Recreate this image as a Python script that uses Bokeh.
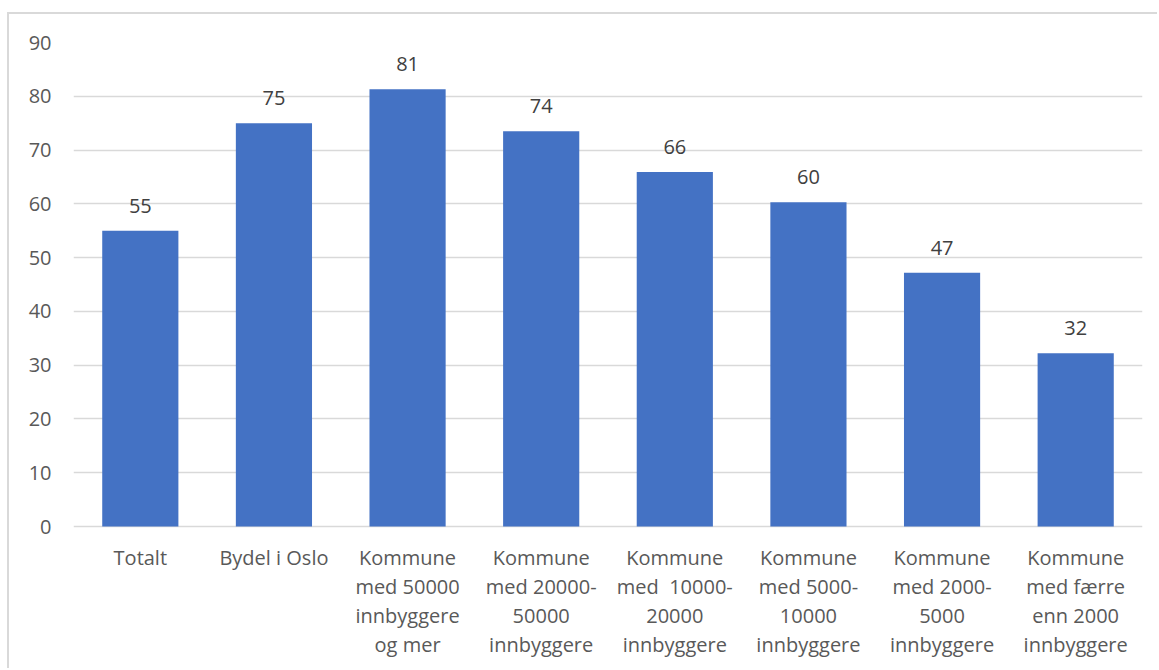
from bokeh.plotting import figure
from bokeh.models import ColumnDataSource, LabelSet, FixedTicker
from bokeh.core.properties import value
from bokeh.embed import file_html
from bokeh.resources import INLINE

categories = ["Totalt", "Bydel i Oslo", "Kommune med 50000 innbyggere og mer",
              "Kommune med 20000-50000 innbyggere", "Kommune med 10000-20000 innbyggere",
              "Kommune med 5000-10000 innbyggere", "Kommune med 2000-5000 innbyggere",
              "Kommune med færre enn 2000 innbyggere"]
tick_lines = [["Totalt"], ["Bydel i Oslo"],
              ["Kommune", "med 50000", "innbyggere", "og mer"],
              ["Kommune", "med 20000-", "50000", "innbyggere"],
              ["Kommune", "med \u00a010000-", "20000", "innbyggere"],
              ["Kommune", "med 5000-", "10000", "innbyggere"],
              ["Kommune", "med 2000-", "5000", "innbyggere"],
              ["Kommune", "med færre", "enn 2000", "innbyggere"]]
values = [55.0, 75.0, 81.3, 73.5, 65.9, 60.3, 47.2, 32.2]
value_labels = ["55", "75", "81", "74", "66", "60", "47", "32"]
y_ticks = [0, 10, 20, 30, 40, 50, 60, 70, 80, 90]

FONT = "Open Sans"
TXT = "#595959"

src = ColumnDataSource(dict(cat=categories, val=values, lab=value_labels))

# category label rows (one per line)
lx, ly, lt, lo = [], [], [], []
for c, lines in zip(categories, tick_lines):
    for i, t in enumerate(lines):
        lx.append(c)
        ly.append(0)
        lt.append(t)
        lo.append(-(31 + 29 * i))
cat_src = ColumnDataSource(dict(x=lx, y=ly, t=lt, o=lo))

p = figure(x_range=categories, y_range=(-26.4, 90), width=1150, height=656,
           output_backend="svg", toolbar_location=None,
           min_border_left=64, min_border_right=17, min_border_top=28, min_border_bottom=2)
p.margin = (12, 0, 0, 7)
p.styles = {"border-left": "2px solid #d9d9d9", "border-top": "2px solid #d9d9d9"}

p.vbar(x="cat", top="val", width=0.57, source=src, color="#4472C4", line_color=None)

labels = LabelSet(x="cat", y="val", text="lab", source=src, text_align="center",
                  text_baseline="bottom", y_offset=18, text_font=value(FONT),
                  text_font_size="20px", text_color="#404040")
p.add_layout(labels)

cat_labels = LabelSet(x="x", y="y", text="t", y_offset="o", source=cat_src,
                      text_align="center", text_baseline="middle",
                      text_font=value(FONT), text_font_size="20px", text_color=TXT)
p.add_layout(cat_labels)

p.outline_line_color = None
p.background_fill_color = "white"
p.border_fill_color = "white"

p.xgrid.grid_line_color = None
p.ygrid.grid_line_color = "#D9D9D9"
p.ygrid.grid_line_width = 1.5
p.yaxis.ticker = FixedTicker(ticks=y_ticks)
p.yaxis.axis_line_color = None
p.yaxis.major_tick_line_color = None
p.yaxis.minor_tick_line_color = None
p.yaxis.major_label_text_font = FONT
p.yaxis.major_label_text_font_size = "20px"
p.yaxis.major_label_text_color = TXT
p.yaxis.major_label_standoff = 16

p.xaxis.visible = False
p.x_range.range_padding = 0

open("out.html", "w").write(file_html(p, INLINE))
